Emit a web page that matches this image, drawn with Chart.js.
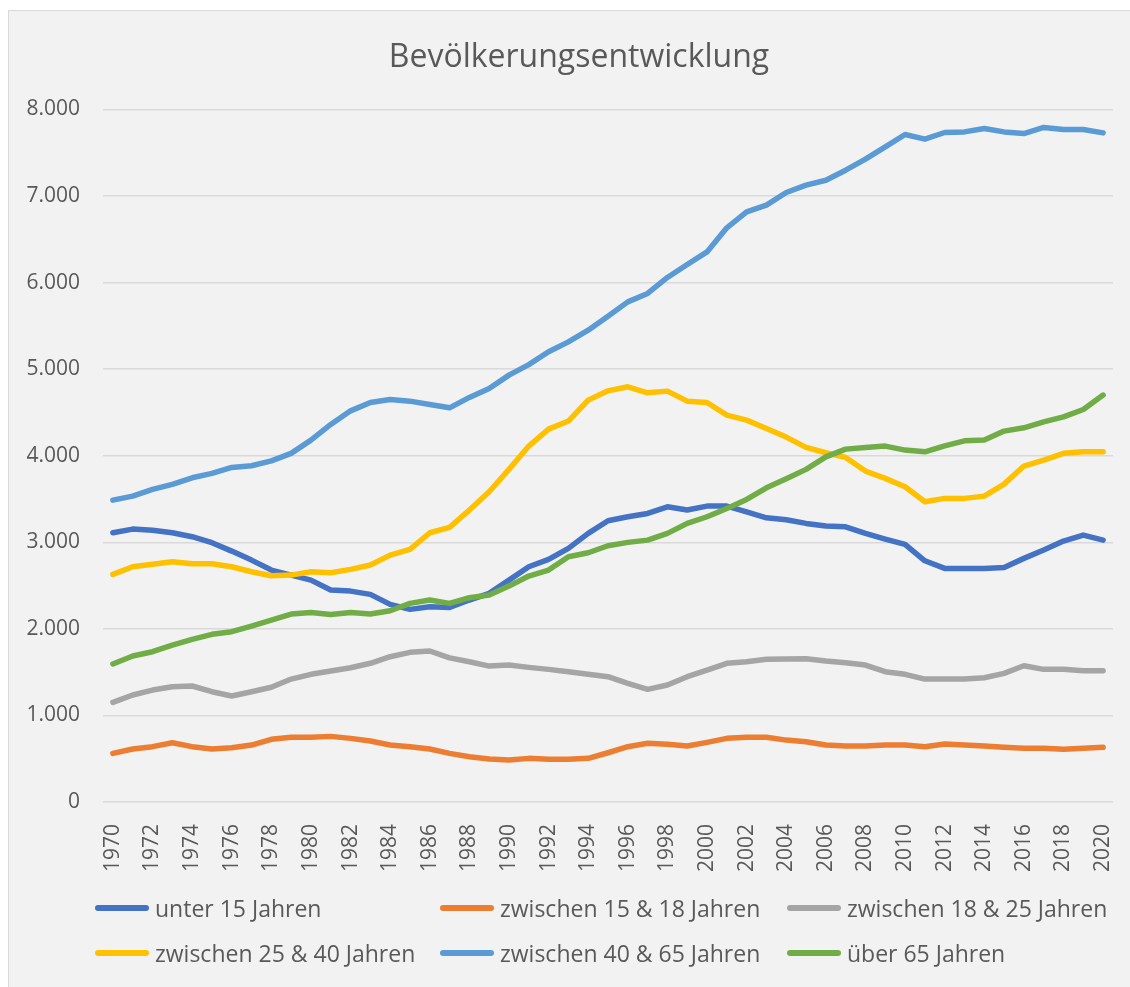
<!DOCTYPE html>
<html>
<head>
<meta charset="utf-8">
<script src="https://cdn.jsdelivr.net/npm/chart.js@4.4.1/dist/chart.umd.min.js"></script>
<style>
  body { margin: 0; background: #fff; overflow: hidden; }
  #frame {
    position: absolute; left: 8px; top: 10px; width: 1140px; height: 1000px;
    background: #f2f2f2; border-left: 1px solid #d9d9d9; border-top: 1px solid #d9d9d9;
    font-family: "Open Sans", sans-serif; color: #595959;
  }
  #legend {
    position: absolute; left: 86px; top: 874px;
    display: grid; grid-template-columns: 345px 347px auto;
  }
  .item { display: flex; align-items: center; height: 45px; font-size: 23px; white-space: nowrap; }
  .item span.line { display: inline-block; width: 54px; height: 6px; border-radius: 3px; margin-right: 6px; }
</style>
</head>
<body>
<div id="frame">
  <canvas id="chart" width="1140" height="977"></canvas>
  <div id="legend"></div>
</div>
<script>
const years = ['1970','1971','1972','1973','1974','1975','1976','1977','1978','1979',
  '1980','1981','1982','1983','1984','1985','1986','1987','1988','1989',
  '1990','1991','1992','1993','1994','1995','1996','1997','1998','1999',
  '2000','2001','2002','2003','2004','2005','2006','2007','2008','2009',
  '2010','2011','2012','2013','2014','2015','2016','2017','2018','2019','2020'];

const seriesNames = ['unter 15 Jahren', 'zwischen 15 & 18 Jahren', 'zwischen 18 & 25 Jahren',
  'zwischen 25 & 40 Jahren', 'zwischen 40 & 65 Jahren', 'über 65 Jahren'];

const unter15 = [3110,3152,3140,3110,3064,2995,2898,2794,2679,2621,
  2563,2448,2436,2398,2283,2225,2255,2248,2333,2410,
  2563,2717,2802,2929,3103,3249,3295,3333,3410,3372,
  3418,3418,3352,3283,3260,3218,3187,3179,3103,3037,
  2976,2786,2698,2698,2698,2710,2814,2910,3014,3083,3025];

const von15bis18 = [562,612,639,685,639,612,627,658,724,747,
  747,758,735,704,658,639,612,562,523,497,
  485,504,493,493,504,569,639,678,666,647,
  689,735,747,747,715,696,658,647,647,658,
  658,639,670,658,647,632,620,620,608,620,632];

const von18bis25 = [1151,1236,1293,1332,1340,1274,1224,1274,1325,1420,
  1475,1513,1551,1602,1678,1729,1744,1665,1620,1570,
  1582,1555,1532,1505,1475,1447,1371,1301,1351,1447,
  1524,1602,1620,1648,1653,1655,1628,1609,1582,1505,
  1475,1420,1420,1420,1435,1486,1574,1532,1532,1516,1516];

const von25bis40 = [2629,2717,2745,2775,2752,2752,2717,2660,2613,2621,
  2660,2648,2687,2737,2852,2918,3110,3172,3372,3583,
  3842,4111,4307,4400,4642,4749,4796,4726,4746,4630,
  4615,4469,4411,4315,4215,4096,4034,3980,3822,3738,
  3641,3468,3507,3507,3533,3672,3880,3949,4027,4045,4045];

const von40bis65 = [3487,3533,3611,3669,3745,3796,3865,3884,3941,4027,
  4180,4361,4518,4615,4650,4630,4592,4553,4673,4777,
  4931,5052,5200,5315,5450,5612,5777,5874,6059,6209,
  6354,6632,6816,6894,7040,7125,7182,7298,7425,7567,
  7710,7656,7733,7740,7779,7740,7721,7791,7768,7768,7729];

const ueber65 = [1594,1686,1736,1813,1879,1937,1967,2032,2102,2171,
  2190,2167,2190,2171,2209,2294,2333,2294,2359,2390,
  2494,2610,2679,2833,2879,2960,2999,3025,3103,3218,
  3295,3391,3495,3629,3735,3842,3987,4076,4096,4111,
  4065,4045,4114,4172,4180,4284,4322,4391,4449,4534,4700];

const yTicks = [0, 1000, 2000, 3000, 4000, 5000, 6000, 7000, 8000];

const colors = ['#4472C4', '#ED7D31', '#A5A5A5', '#FFC000', '#5B9BD5', '#70AD47'];
const allValues = [unter15, von15bis18, von18bis25, von25bis40, von40bis65, ueber65];

const textColor = '#595959';
const fontFamily = '"Open Sans", sans-serif';

const datasets = allValues.map(function(values, i) {
    return {
        label: seriesNames[i],
        data: values,
        borderColor: colors[i],
        backgroundColor: colors[i],
        borderWidth: 5.5,
        pointRadius: 0,
        tension: 0,
        borderCapStyle: 'round',
        borderJoinStyle: 'round',
        order: allValues.length - i // wie in Excel: letzte Reihe oben
    };
});

// Titel über der ganzen Diagrammbreite zentrieren (nicht nur bis zum rechten Rand der Zeichenfläche)
const centerTitle = {
    id: 'centerTitle',
    afterLayout: function(chart) {
        const t = chart.titleBlock;
        if (t) {
            t.left = chart.width - t.right;
        }
    }
};

const ctx = document.getElementById('chart').getContext('2d');
const chart = new Chart(ctx, {
    type: 'line',
    data: { labels: years, datasets: datasets },
    plugins: [centerTitle],
    options: {
        responsive: false,
        animation: false,
        layout: { padding: { left: 0, right: 36, top: 0, bottom: 0 } },
        plugins: {
            legend: { display: false },
            tooltip: { enabled: false },
            title: {
                display: true,
                text: 'Bevölkerungsentwicklung',
                color: textColor,
                font: { family: fontFamily, size: 32, weight: 'normal', lineHeight: 1.2 },
                padding: { top: 28, bottom: 32 }
            }
        },
        scales: {
            x: {
                offset: true,
                grid: { display: false },
                border: { display: false },
                ticks: {
                    autoSkip: false,
                    maxRotation: 90,
                    minRotation: 90,
                    padding: 14,
                    color: textColor,
                    font: { family: fontFamily, size: 21 },
                    callback: function(value, index) {
                        return index % 2 === 0 ? this.getLabelForValue(value) : '';
                    }
                },
                afterFit: function(scale) { scale.height = 186; }
            },
            y: {
                min: 0,
                max: 8000,
                afterBuildTicks: function(scale) {
                    scale.ticks = yTicks.map(function(v) { return { value: v }; });
                },
                grid: { color: '#d9d9d9', lineWidth: 1.5, drawTicks: false },
                border: { display: false },
                ticks: {
                    padding: 23,
                    color: textColor,
                    font: { family: fontFamily, size: 21 },
                    callback: function(value) { return value.toLocaleString('de-DE'); }
                },
                afterFit: function(scale) { scale.width = 94; }
            }
        }
    }
});

// Legende als HTML-Raster (drei Spalten wie im Original)
const legendBox = document.getElementById('legend');
chart.data.datasets.forEach(function(ds) {
    const item = document.createElement('div');
    item.className = 'item';
    const line = document.createElement('span');
    line.className = 'line';
    line.style.background = ds.borderColor;
    item.appendChild(line);
    item.appendChild(document.createTextNode(ds.label));
    legendBox.appendChild(item);
});
</script>
</body>
</html>
